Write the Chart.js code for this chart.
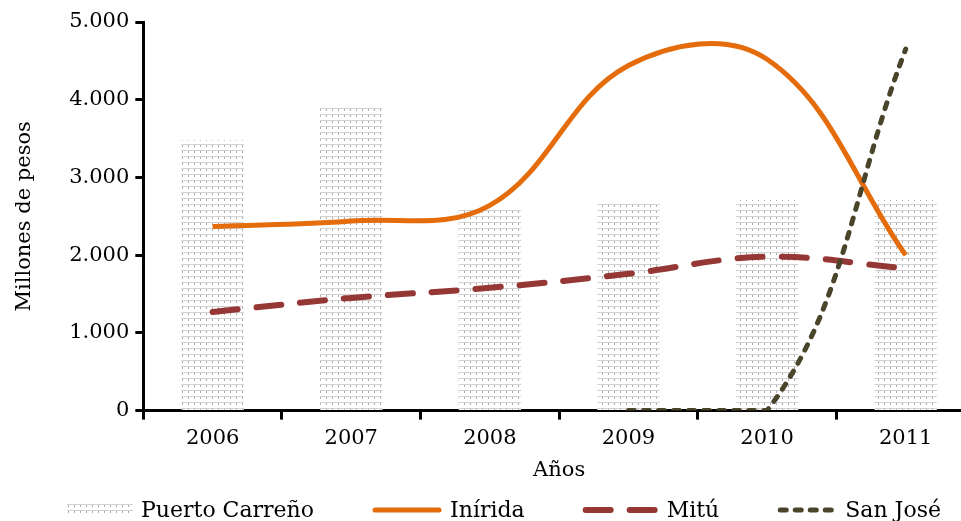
<!DOCTYPE html>
<html>
<head>
<meta charset="utf-8">
<script src="https://cdn.jsdelivr.net/npm/chart.js@4/dist/chart.umd.min.js"></script>
<style>
  body { margin: 0; background: #fff; overflow: hidden; }
  #wrap { width: 961px; height: 521px; overflow: hidden; }
</style>
</head>
<body>
<div id="wrap"><canvas id="grafico" width="975" height="521"></canvas></div>
<script>
const anios = ['2006', '2007', '2008', '2009', '2010', '2011'];
const puertoCarreno = [3480, 3910, 2590, 2660, 2710, 2710];
const inirida = [2370, 2440, 2640, 4440, 4520, 2000];
const mitu = [1270, 1450, 1580, 1760, 1980, 1830];
const sanJose = [null, null, null, 0, 0, 4650];
const ticksY = [0, 1000, 2000, 3000, 4000, 5000];

// patrón gris tipo "regla" de las barras
function crearPatron() {
    const c = document.createElement('canvas');
    c.width = 6;
    c.height = 6;
    const p = c.getContext('2d');
    p.fillStyle = '#ffffff';
    p.fillRect(0, 0, 6, 6);
    p.fillStyle = '#d2d2d2';
    p.fillRect(0, 0, 6, 1);
    p.fillStyle = '#ababab';
    p.fillRect(2, 1, 1, 2);
    return p.createPattern(c, 'repeat');
}

const fuente = "'DejaVu Serif', serif";
const ctx = document.getElementById('grafico').getContext('2d');
const patron = crearPatron();

// leyenda dibujada a mano para controlar el espaciado
const leyenda = {
    id: 'leyenda',
    afterDraw(chart) {
        const c = chart.ctx;
        const anchos = [66, 70, 76, 60];
        const sep = 8, hueco = 58, yc = 510;
        c.save();
        c.font = '22px ' + fuente;
        c.textBaseline = 'middle';
        c.fillStyle = '#000';
        const items = chart.data.datasets.map((d, i) => ({ d, w: anchos[i], tw: c.measureText(d.label).width }));
        const total = items.reduce((s, it) => s + it.w + sep + it.tw, 0) + hueco * (items.length - 1);
        let x = 504 - total / 2;
        items.forEach(it => {
            const d = it.d;
            if (d.type === 'line') {
                c.beginPath();
                c.strokeStyle = d.borderColor;
                c.lineWidth = d.borderWidth;
                c.lineCap = 'round';
                c.setLineDash(d.borderDash || []);
                c.moveTo(x + 3, yc);
                c.lineTo(x + it.w - 3, yc);
                c.stroke();
                c.setLineDash([]);
            } else {
                c.fillStyle = d.backgroundColor;
                c.fillRect(x, yc - 6, it.w, 12);
            }
            c.fillStyle = '#000';
            c.fillText(d.label, x + it.w + sep, yc + 1);
            x += it.w + sep + it.tw + hueco;
        });
        c.restore();
    }
};

new Chart(ctx, {
    type: 'bar',
    data: {
        labels: anios,
        datasets: [
            {
                label: 'Puerto Carreño',
                data: puertoCarreno,
                backgroundColor: patron,
                borderWidth: 0,
                barPercentage: 0.45,
                categoryPercentage: 1,
                order: 10
            },
            {
                type: 'line',
                label: 'Inírida',
                data: inirida,
                borderColor: '#e46c0a',
                borderWidth: 5,
                pointRadius: 0,
                tension: 0.38,
                order: 1
            },
            {
                type: 'line',
                label: 'Mitú',
                data: mitu,
                borderColor: '#953735',
                borderWidth: 6,
                borderDash: [25, 19],
                borderCapStyle: 'round',
                pointRadius: 0,
                tension: 0.38,
                order: 2
            },
            {
                type: 'line',
                label: 'San José',
                data: sanJose,
                borderColor: '#4a452a',
                borderWidth: 5,
                borderDash: [6, 9],
                borderCapStyle: 'round',
                pointRadius: 0,
                tension: 0.38,
                order: 0
            }
        ]
    },
    options: {
        responsive: false,
        animation: false,
        layout: { padding: { top: 22, right: 0, left: 12, bottom: 38 } },
        plugins: {
            tooltip: { enabled: false },
            legend: { display: false }
        },
        scales: {
            x: {
                offset: true,
                border: { color: '#000', width: 3 },
                grid: {
                    offset: true,
                    drawOnChartArea: false,
                    tickLength: 9,
                    tickWidth: 3,
                    tickColor: '#000'
                },
                ticks: { color: '#000', font: { family: fuente, size: 21 }, padding: 6 },
                title: {
                    display: true,
                    text: 'Años',
                    color: '#000',
                    font: { family: fuente, size: 21 },
                    padding: { top: 1, bottom: 0 }
                }
            },
            y: {
                min: 0,
                max: 5000,
                afterBuildTicks: axis => { axis.ticks = ticksY.map(v => ({ value: v })); },
                border: { color: '#000', width: 3 },
                grid: {
                    drawOnChartArea: false,
                    tickLength: 8,
                    tickWidth: 3,
                    tickColor: '#000'
                },
                ticks: {
                    color: '#000',
                    font: { family: fuente, size: 21 },
                    padding: 6,
                    callback: v => v.toLocaleString('de-DE')
                },
                title: {
                    display: true,
                    text: 'Millones de pesos',
                    color: '#000',
                    font: { family: fuente, size: 21 },
                    padding: { top: 0, bottom: 26 }
                }
            }
        }
    },
    plugins: [leyenda]
});
</script>
</body>
</html>
